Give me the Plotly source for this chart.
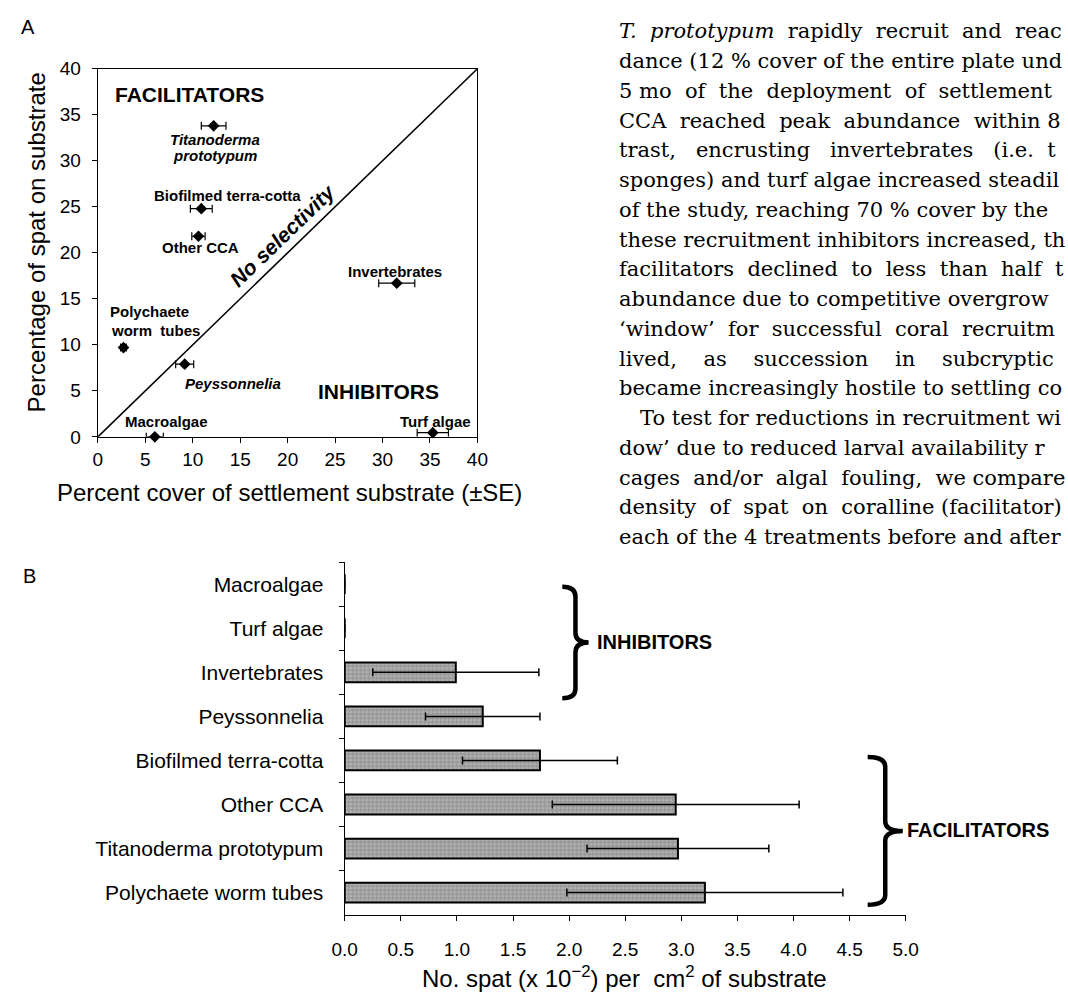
import plotly.graph_objects as go

W, H = 1068, 1002


def fx(px):
    return px / W


def fy(py):
    return 1 - py / H


# ---------------- Panel A data ----------------
substrates_a = ["Titanoderma prototypum", "Biofilmed terra-cotta", "Other CCA",
                "Invertebrates", "Polychaete worm tubes", "Peyssonnelia",
                "Macroalgae", "Turf algae"]
cover_pct = [12.2, 10.9, 10.6, 31.5, 2.7, 9.15, 6.0, 35.3]
cover_se = [1.3, 1.15, 0.7, 1.9, 0.3, 0.95, 0.9, 1.65]
spat_pct = [33.8, 24.8, 21.8, 16.7, 9.7, 7.9, 0.0, 0.45]
ticks_a = [0, 5, 10, 15, 20, 25, 30, 35, 40]

# ---------------- Panel B data ----------------
categories_b = ["Macroalgae", "Turf algae", "Invertebrates", "Peyssonnelia",
                "Biofilmed terra-cotta", "Other CCA", "Titanoderma prototypum",
                "Polychaete worm tubes"]
spat_density = [0, 0, 0.99, 1.23, 1.74, 2.95, 2.97, 3.21]
spat_density_se = [0, 0, 0.74, 0.51, 0.69, 1.10, 0.81, 1.23]
ticks_b = [0.0, 0.5, 1.0, 1.5, 2.0, 2.5, 3.0, 3.5, 4.0, 4.5, 5.0]

# ---------------- Body text of the page (cropped at the right edge) ----------------
body_lines = [
    "<i>T.  prototypum</i>  rapidly  recruit  and  reac",
    "dance (12 % cover of the entire plate und",
    "5 mo  of  the  deployment  of  settlement",
    "CCA  reached  peak  abundance  within 8",
    "trast,   encrusting   invertebrates   (i.e.  t",
    "sponges) and turf algae increased steadil",
    "of the study, reaching 70 % cover by the",
    "these recruitment inhibitors increased, th",
    "facilitators  declined  to  less  than  half  t",
    "abundance due to competitive overgrow",
    "‘window’  for  successful  coral  recruitm",
    "lived,    as    succession    in    subcryptic",
    "became increasingly hostile to settling co",
    "\u2003To test for reductions in recruitment wi",
    "dow’ due to reduced larval availability r",
    "cages  and/or  algal  fouling,  we compare",
    "density  of  spat  on  coralline (facilitator)",
    "each of the 4 treatments before and after",
]

SANS = "Liberation Sans, Arial, Helvetica, sans-serif"
SERIF = "DejaVu Serif, serif"

fig = go.Figure()

# Panel A scatter with horizontal SE bars
fig.add_trace(go.Scatter(
    x=cover_pct, y=spat_pct, mode="markers",
    marker=dict(symbol="diamond", size=9, color="black"),
    error_x=dict(type="data", array=cover_se, visible=True,
                 color="black", thickness=1.2, width=4),
    xaxis="x", yaxis="y", cliponaxis=False, showlegend=False,
    text=substrates_a,
))

# Panel B bars (no error whisker where the mean is zero)
fig.add_trace(go.Bar(
    x=spat_density, y=categories_b, orientation="h",
    width=0.45,
    marker=dict(color="#a6a6a6", line=dict(color="black", width=2),
                pattern=dict(shape=".", fgcolor="#d0d0d0", bgcolor="#9a9a9a",
                             size=4, solidity=0.35)),
    error_x=dict(type="data",
                 array=[e if v > 0 else None for v, e in zip(spat_density, spat_density_se)],
                 visible=True, color="black", thickness=1.5, width=4),
    xaxis="x2", yaxis="y2", showlegend=False,
))

axis_common = dict(showline=True, linecolor="black", linewidth=1.3,
                   ticks="outside", ticklen=5, tickwidth=1.2, tickcolor="black",
                   showgrid=False, zeroline=False,
                   tickfont=dict(family=SANS, size=19, color="black"))

fig.update_layout(
    width=W, height=H,
    margin=dict(l=0, r=0, t=0, b=0),
    paper_bgcolor="white", plot_bgcolor="white",
    xaxis=dict(domain=[fx(87), fx(476)], range=[0, 40], tickvals=ticks_a,
               mirror=True, anchor="y", ticklabelstandoff=0, **axis_common),
    yaxis=dict(domain=[fy(436), fy(60)], range=[0, 40], tickvals=ticks_a,
               mirror=True, anchor="x", ticklabelstandoff=7, **axis_common),
    xaxis2=dict(domain=[fx(340), fx(915)], range=[0, 5], tickvals=ticks_b,
                ticktext=[f"{t:.1f}" for t in ticks_b], anchor="y2",
                ticklabelstandoff=12, **axis_common),
    yaxis2=dict(domain=[fy(924), fy(564)], anchor="x2",
                categoryorder="array", categoryarray=categories_b,
                range=[7.5, -0.5], tickson="boundaries",
                ticklabelstandoff=16,
                **{**axis_common, "tickfont": dict(family=SANS, size=21, color="black")}),
    bargap=0.55,
)

# Diagonal "no selectivity" line
fig.add_shape(type="line", x0=0, y0=0, x1=40, y1=40, xref="x", yref="y",
              line=dict(color="black", width=1.6))


def brace_path(x0, x1, y0, y1):
    """Right-facing curly brace in pixel coords -> paper path."""
    ym = (y0 + y1) / 2
    xm = (x0 + x1) / 2
    r = min(10, (y1 - y0) / 6)
    pts = [
        ("M", [(x0, y0)]),
        ("Q", [(xm, y0), (xm, y0 + r)]),
        ("L", [(xm, ym - r)]),
        ("Q", [(xm, ym), (x1, ym)]),
        ("Q", [(xm, ym), (xm, ym + r)]),
        ("L", [(xm, y1 - r)]),
        ("Q", [(xm, y1), (x0, y1)]),
    ]
    s = ""
    for cmd, ps in pts:
        s += cmd + " " + " ".join(f"{fx(px):.5f},{fy(py):.5f}" for px, py in ps) + " "
    return s.strip()


fig.add_shape(type="path", xref="paper", yref="paper",
              path=brace_path(563, 590, 589, 703),
              line=dict(color="black", width=4.5))
fig.add_shape(type="path", xref="paper", yref="paper",
              path=brace_path(876, 912, 763, 914),
              line=dict(color="black", width=4.5))

ann = []


def a_label(text, x, y, size=15, anchor="center", bold=True, italic=False, angle=0):
    t = text
    if italic:
        t = f"<i>{t}</i>"
    if bold:
        t = f"<b>{t}</b>"
    ann.append(dict(text=t, x=x, y=y, xref="x", yref="y", xanchor=anchor,
                    yanchor="middle", showarrow=False, textangle=angle,
                    font=dict(family=SANS, size=size, color="black")))


def px_to_a(px, py):
    return (px - 87) / 389 * 40, (436 - py) / 376 * 40


def a_at(text, px, py, **kw):
    x, y = px_to_a(px, py)
    a_label(text, x, y, **kw)


a_at("FACILITATORS", 102, 86, size=21, anchor="left")
a_at("Titanoderma", 207, 132, italic=True)
a_at("prototypum", 207, 149, italic=True)
a_at("Biofilmed terra-cotta", 220, 189)
a_at("Other CCA", 192, 243)
a_at("Invertebrates", 392, 267)
a_at("Polychaete", 97, 308, anchor="left")
a_at("worm  tubes", 98, 327, anchor="left")
a_at("Peyssonnelia", 225, 382, italic=True)
a_at("INHIBITORS", 375, 390, size=21)
a_at("Macroalgae", 157, 420)
a_at("Turf algae", 433, 420)
a_at("No selectivity", 276, 230, size=21, italic=True, angle=-44)


def p_text(text, px, py, size, anchor="center", family=SANS, angle=0):
    ann.append(dict(text=text, x=fx(px), y=fy(py), xref="paper", yref="paper",
                    xanchor=anchor, yanchor="middle", showarrow=False,
                    textangle=angle,
                    font=dict(family=family, size=size, color="black")))


# panel letters
p_text("A", 15, 17, 20)
p_text("B", 17, 578, 20)

# axis titles
p_text("Percent cover of settlement substrate (±SE)", 283, 493, 24)
p_text("Percentage of spat on substrate", 24, 237, 24, angle=-90)
p_text("No. spat (x 10<sup>\u22122</sup>) per  cm<sup>2</sup> of substrate", 627, 988, 24)

# brace labels
p_text("<b>INHIBITORS</b>", 597, 646, 20, anchor="left")
p_text("<b>FACILITATORS</b>", 914, 838, 20, anchor="left")

# body text of the page
for i, line in enumerate(body_lines):
    p_text(line, 619, 21.7 + 30.4 * i, 21, anchor="left", family=SERIF)

fig.update_layout(annotations=ann)

fig.write_html("out.html")
